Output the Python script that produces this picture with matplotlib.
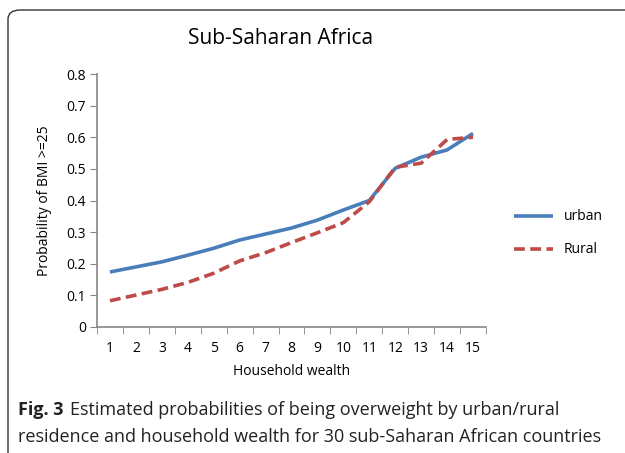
import matplotlib
matplotlib.use("Agg")
import matplotlib.pyplot as plt
from matplotlib.patches import FancyBboxPatch

wealth = list(range(1, 16))
urban = [0.174, 0.190, 0.206, 0.227, 0.249, 0.275, 0.294, 0.313, 0.338, 0.370, 0.400, 0.502, 0.537, 0.560, 0.612]
rural = [0.083, 0.101, 0.119, 0.141, 0.170, 0.209, 0.235, 0.267, 0.298, 0.330, 0.396, 0.505, 0.518, 0.593, 0.600]
yticks = [0, 0.1, 0.2, 0.3, 0.4, 0.5, 0.6, 0.7, 0.8]

plt.rcParams['font.family'] = ['Open Sans', 'DejaVu Sans']

W, H = 625, 453
fig = plt.figure(figsize=(W / 100, H / 100), dpi=100)

# rounded frame
frame = FancyBboxPatch((8 / W, -20 / H), 650 / W, 463 / H,
                       boxstyle="round,pad=0,rounding_size=0.02",
                       transform=fig.transFigure, fill=False,
                       edgecolor='#333333', linewidth=1.0, clip_on=False)
fig.patches.append(frame)

ax = fig.add_axes([97 / W, 1 - 327 / H, (486 - 97) / W, (327 - 74) / H])
ax.plot(wealth, urban, color='#4A7EBB', linewidth=2.6, label='urban', solid_capstyle='butt')
ax.plot(wealth, rural, color='#BE4B48', linewidth=2.6, linestyle=(0, (3, 1.5)), label='Rural')

ax.set_xlim(0.5, 15.5)
ax.set_ylim(0, 0.8)
ax.set_yticks(yticks)
ax.set_yticklabels(['0'] + [f'{v:.1f}' for v in yticks[1:]], fontsize=10)
ax.set_xticks(wealth)
ax.set_xticklabels([str(w) for w in wealth], fontsize=10)
ax.set_xticks([x + 0.5 for x in range(0, 16)], minor=True)
ax.tick_params(axis='x', which='major', length=0, pad=10)
ax.tick_params(axis='x', which='minor', length=5, color='#868686')
ax.tick_params(axis='y', length=5, color='#868686', pad=3)
for s in ['top', 'right']:
    ax.spines[s].set_visible(False)
for s in ['left', 'bottom']:
    ax.spines[s].set_color('#868686')
    ax.spines[s].set_linewidth(1.2)

ax.set_xlabel('Household wealth', fontsize=10, labelpad=6)
ax.set_ylabel('Probability of BMI >=25', fontsize=10, labelpad=10)

fig.text(281 / W, 1 - 38 / H, 'Sub-Saharan Africa', fontsize=15, ha='center', va='center')

ax.legend(loc='center left', bbox_to_anchor=(1.04, 0.37), frameon=False, fontsize=10,
          handlelength=2.8, labelspacing=1.3)

fb = fig.text(18 / W, 1 - 410 / H, 'Fig. 3', fontsize=13, ha='left', va='center',
              weight='bold', color='#222222')
fig.canvas.draw()
bb = fb.get_window_extent()
fig.text((bb.x1 + 6) / W, 1 - 410 / H, 'Estimated probabilities of being overweight by urban/rural',
         fontsize=13, ha='left', va='center', color='#222222')
fig.text(18 / W, 1 - 437 / H, 'residence and household wealth for 30 sub-Saharan African countries',
         fontsize=13, ha='left', va='center', color='#222222')

fig.savefig('out.png', dpi=100)
